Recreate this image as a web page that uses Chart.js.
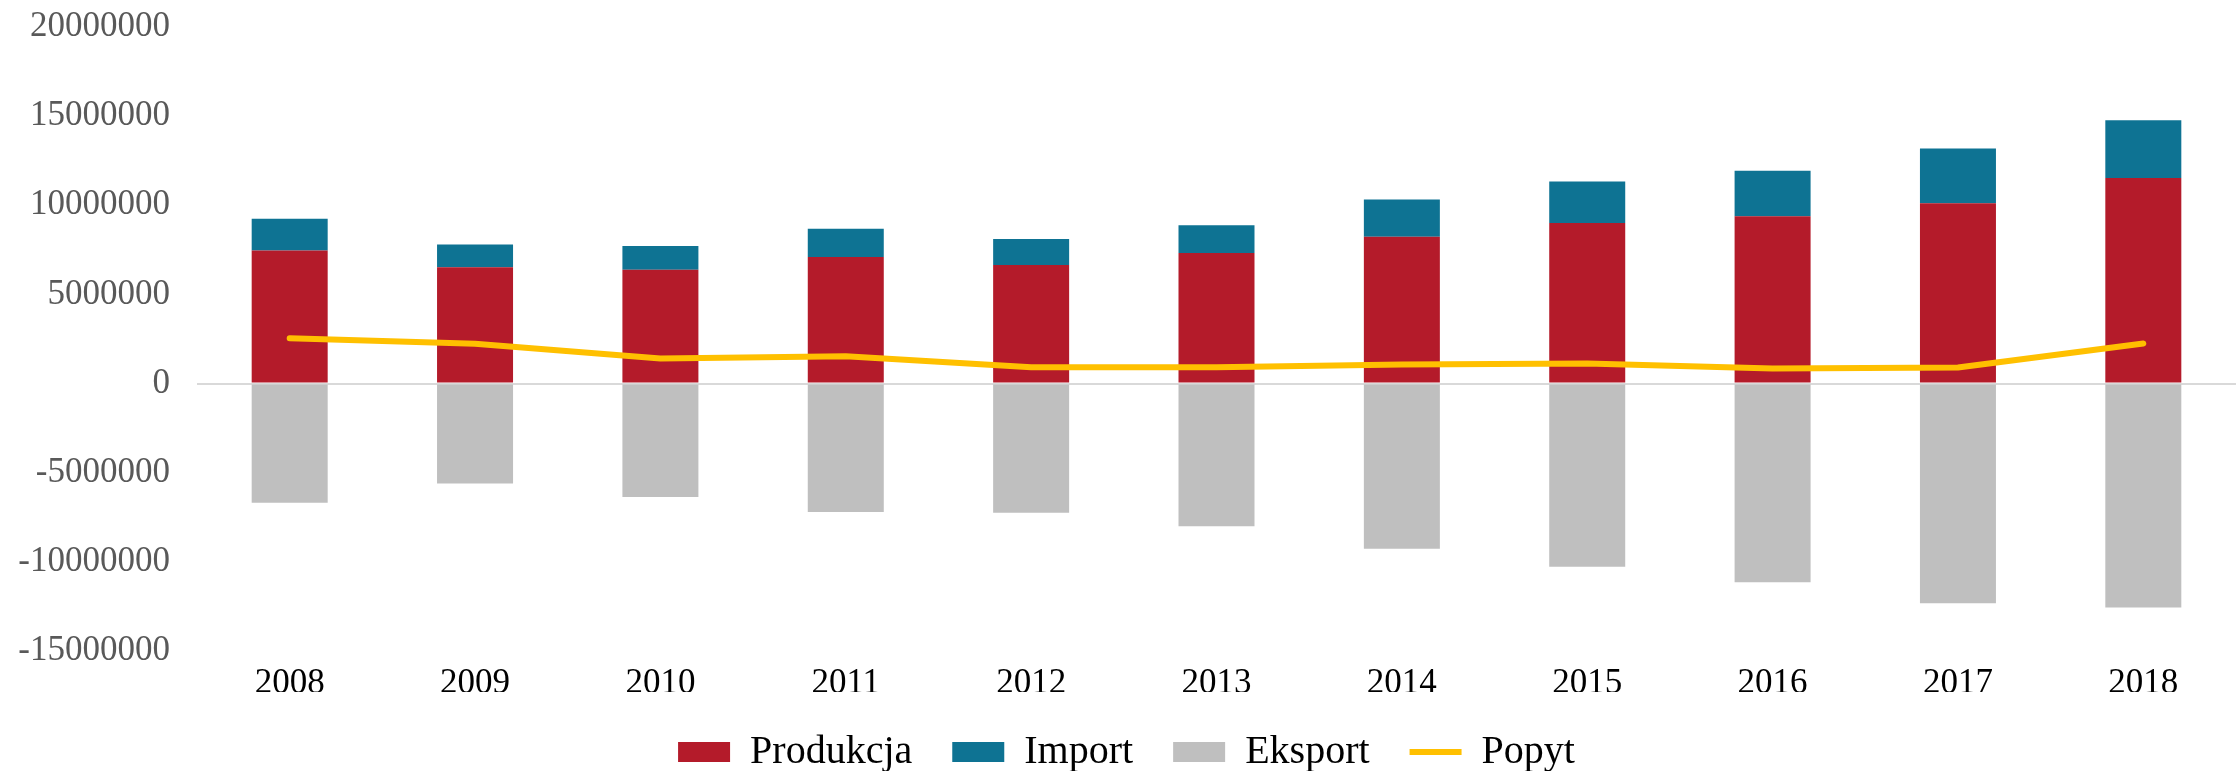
<!DOCTYPE html>
<html lang="pl">
<head>
<meta charset="utf-8">
<title>Produkcja, import, eksport i popyt 2008-2018</title>
<script src="https://cdn.jsdelivr.net/npm/chart.js@4/dist/chart.umd.min.js"></script>
<style>
  html, body { margin: 0; padding: 0; background: #fff; }
  #chart { display: block; }
</style>
</head>
<body>
<canvas id="chart" width="2239" height="771"></canvas>
<script>
var years = ["2008", "2009", "2010", "2011", "2012", "2013", "2014", "2015", "2016", "2017", "2018"];
var produkcja = [7460000, 6520000, 6380000, 7100000, 6650000, 7330000, 8240000, 9010000, 9380000, 10110000, 11530000];
var importVals = [1780000, 1280000, 1340000, 1590000, 1460000, 1550000, 2080000, 2320000, 2560000, 3070000, 3240000];
var eksport = [-6690000, -5610000, -6360000, -7200000, -7250000, -8000000, -9270000, -10280000, -11140000, -12320000, -12560000];
var popyt = [2540000, 2240000, 1400000, 1530000, 920000, 920000, 1070000, 1120000, 850000, 900000, 2250000];
var yTicks = [-15000000, -10000000, -5000000, 0, 5000000, 10000000, 15000000, 20000000];

(function () {
  "use strict";

  var serif = "'Liberation Serif', 'Times New Roman', serif";

  // bars get square markers, the demand line gets a short stroke
  function legendItems(chart) {
    var items = Chart.defaults.plugins.legend.labels.generateLabels(chart);
    items.forEach(function (item) {
      var ds = chart.data.datasets[item.datasetIndex];
      if (ds.type === "line") {
        item.pointStyle = "line";
        item.strokeStyle = ds.borderColor;
        item.lineWidth = 6;
      } else {
        item.pointStyle = "rect";
        item.lineWidth = 0;
      }
    });
    return items;
  }

  var ctx = document.getElementById("chart").getContext("2d");
  new Chart(ctx, {
    data: {
      labels: years,
      datasets: [
        {
          type: "bar",
          label: "Produkcja",
          data: produkcja,
          backgroundColor: "#B41B2A",
          borderWidth: 0,
          stack: "bilans"
        },
        {
          type: "bar",
          label: "Import",
          data: importVals,
          backgroundColor: "#0E7393",
          borderWidth: 0,
          stack: "bilans"
        },
        {
          type: "bar",
          label: "Eksport",
          data: eksport,
          backgroundColor: "#BFBFBF",
          borderWidth: 0,
          stack: "bilans"
        },
        {
          type: "line",
          label: "Popyt",
          data: popyt,
          borderColor: "#FFC000",
          backgroundColor: "#FFC000",
          borderWidth: 6,
          borderCapStyle: "round",
          borderJoinStyle: "round",
          pointRadius: 0,
          tension: 0,
          fill: false,
          stack: "popyt",
          order: -1
        }
      ]
    },
    options: {
      responsive: false,
      devicePixelRatio: 1,
      animation: false,
      datasets: {
        bar: {
          barPercentage: 0.41,
          categoryPercentage: 1
        }
      },
      layout: {
        padding: { left: 17, right: 3, top: 0, bottom: 0 }
      },
      plugins: {
        tooltip: { enabled: false },
        legend: {
          display: true,
          position: "bottom",
          maxHeight: 79,
          labels: {
            usePointStyle: true,
            pointStyleWidth: 52,
            boxHeight: 20,
            padding: 40,
            color: "#000",
            font: { family: serif, size: 40 },
            generateLabels: legendItems,
            sort: function (a, b) {
              return a.datasetIndex - b.datasetIndex;
            }
          }
        }
      },
      scales: {
        x: {
          stacked: true,
          grid: { display: false, drawTicks: false },
          border: { display: false },
          afterFit: function (axis) {
            axis.height = 41;
          },
          ticks: {
            color: "#000",
            padding: 12,
            font: { family: serif, size: 35 }
          }
        },
        y: {
          stacked: true,
          min: -15000000,
          max: 20000000,
          afterBuildTicks: function (axis) {
            axis.ticks = yTicks.map(function (v) { return { value: v }; });
          },
          afterFit: function (axis) {
            axis.width = 180;
            axis.paddingTop = 27;
            axis.paddingBottom = 27;
          },
          grid: {
            drawTicks: false,
            lineWidth: 2,
            color: function (c) {
              return c.tick && c.tick.value === 0 ? "#D9D9D9" : "rgba(0,0,0,0)";
            }
          },
          border: { display: false },
          ticks: {
            color: "#595959",
            padding: 27,
            font: { family: serif, size: 35 },
            callback: function (value) {
              return String(value);
            }
          }
        }
      }
    }
  });
})();
</script>
</body>
</html>
